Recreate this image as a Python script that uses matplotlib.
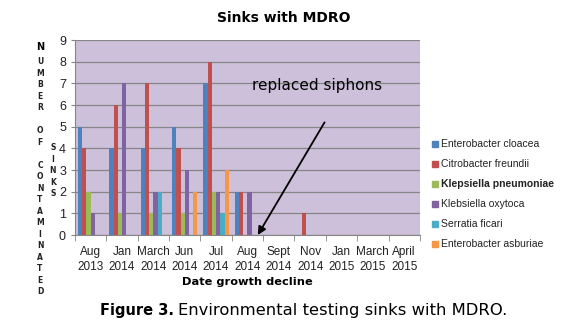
import numpy as np
import matplotlib.pyplot as plt

months = ['Aug\n2013', 'Jan\n2014', 'March\n2014', 'Jun\n2014', 'Jul\n2014', 'Aug\n2014',
          'Sept\n2014', 'Nov\n2014', 'Jan\n2015', 'March\n2015', 'April\n2015']
species = ['Enterobacter cloacea', 'Citrobacter freundii', 'Klepsiella pneumoniae',
           'Klebsiella oxytoca', 'Serratia ficari', 'Enterobacter asburiae']

cloacea    = [5, 4, 4, 5, 7, 2, 0, 0, 0, 0, 0]
freundii   = [4, 6, 7, 4, 8, 2, 0, 1, 0, 0, 0]
pneumoniae = [2, 1, 1, 1, 2, 0, 0, 0, 0, 0, 0]
oxytoca    = [1, 7, 2, 3, 2, 2, 0, 0, 0, 0, 0]
ficari     = [0, 0, 2, 0, 1, 0, 0, 0, 0, 0, 0]
asburiae   = [0, 0, 0, 2, 3, 0, 0, 0, 0, 0, 0]
series = [cloacea, freundii, pneumoniae, oxytoca, ficari, asburiae]

colors = ['#4F81BD', '#C0504D', '#9BBB59', '#8064A2', '#4BACC6', '#F79646']
lab = 'Liberation Sans'

fig = plt.figure(figsize=(5.7, 3.31), dpi=100)
ax = fig.add_axes([0.1316, 0.290, 0.605, 0.589])
ax.set_facecolor('#CCC0DA')

x = np.arange(len(months))
w = 0.135
for i, (vals, c) in enumerate(zip(series, colors)):
    ax.bar(x + (i - 2.5) * w, vals, w, color=c, label=species[i], zorder=3)

ax.set_xlim(-0.5, len(months) - 0.5)
ax.set_ylim(0, 9)
ax.set_yticks(range(10))
ax.yaxis.grid(True, color='#868686', lw=0.9, zorder=1)
for s in ['top', 'right']:
    ax.spines[s].set_visible(False)
for s in ['left', 'bottom']:
    ax.spines[s].set_color('#868686')
ax.tick_params(axis='y', colors='#868686', labelcolor='#222222', labelsize=9, length=3)
for t in ax.get_yticklabels():
    t.set_family(lab)
ax.set_xticks(x)
ax.set_xticklabels(months, fontsize=8.5, color='#222222', linespacing=1.3, family=lab)
ax.set_xticks(np.arange(-0.5, len(months)), minor=True)
ax.tick_params(axis='x', which='major', length=0, pad=8)
ax.tick_params(axis='x', which='minor', length=4, colors='#868686')
ax.set_xlabel('Date growth decline', fontsize=8.2, fontweight='bold', labelpad=3)

ax.annotate('', xy=(5.33, 0.0), xytext=(7.46, 5.2),
            arrowprops=dict(arrowstyle='-|>', color='black', lw=1.3,
                            mutation_scale=12, shrinkA=0, shrinkB=0), zorder=5)
ax.text(5.14, 6.9, 'replaced siphons', fontsize=11, va='center', ha='left')

fig.text(0.497, 0.946, 'Sinks with MDRO', fontsize=10, fontweight='bold',
         ha='center', va='center')

# stacked-letter y axis title
col1 = 'NUMBER OF CONTAMINATED'
fig.text(40 / 570, 1 - 47 / 331, 'N', fontsize=7, fontweight='bold', ha='center', va='center')
fig.text(40 / 570, 1 - 57 / 331, '\n'.join(col1[1:]), fontsize=5.5, fontweight='bold',
         ha='center', va='top', linespacing=1.36, color='#222222')
fig.text(53 / 570, 1 - 143 / 331, '\n'.join('SINKS'), fontsize=5.5, fontweight='bold',
         ha='center', va='top', linespacing=1.36, color='#222222')

# legend
for i, (name, c) in enumerate(zip(species, colors)):
    yy = 1 - (143 + 20 * i) / 331
    fig.patches.append(plt.Rectangle((432 / 570, yy - 0.011), 6 / 570, 6 / 331,
                                     transform=fig.transFigure, color=c))
    fig.text(441 / 570, yy - 0.002, name, fontsize=7.5, va='center', ha='left', family=lab,
             color='#222222', fontweight='bold' if i == 2 else 'normal')

fig.text(100 / 570, 1 - 310 / 331, 'Figure 3.', fontsize=10.5, fontweight='bold',
         va='center', ha='left')
fig.text(178 / 570, 1 - 310 / 331, 'Environmental testing sinks with MDRO.', fontsize=11.8,
         va='center', ha='left')

fig.savefig('out.png', dpi=100)
